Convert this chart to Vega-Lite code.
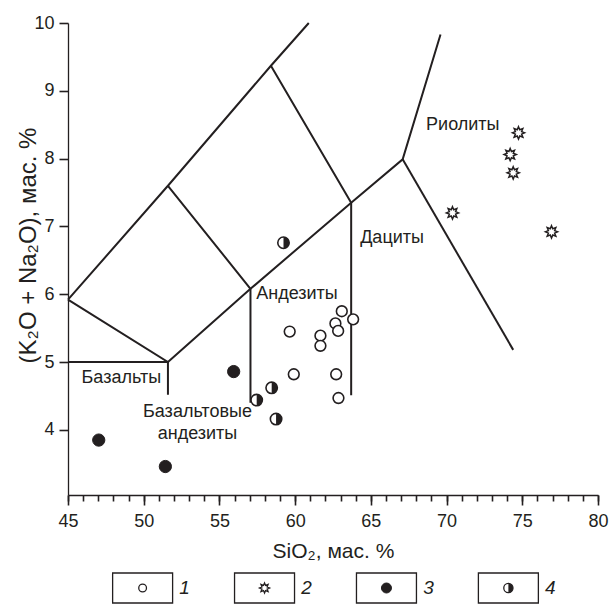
{
  "$schema": "https://vega.github.io/schema/vega-lite/v6.json",
  "background": "white",
  "padding": {"left": 16, "top": 14, "right": 5, "bottom": 0},
  "spacing": 11,
  "config": {
    "view": {"stroke": null},
    "font": "Liberation Sans",
    "text": {"font": "Liberation Sans", "fontSize": 18, "color": "#231f20"},
    "axis": {"ticks": true, "tickOpacity": 1}
  },
  "datasets": {
    "lines": [
      {"seg": "A", "o": 1, "x": 45, "y": 5.0},
      {"seg": "A", "o": 2, "x": 51.6, "y": 5.0},
      {"seg": "A", "o": 3, "x": 51.6, "y": 4.52},
      {"seg": "B", "o": 1, "x": 45, "y": 5.92},
      {"seg": "B", "o": 2, "x": 51.6, "y": 7.6},
      {"seg": "B", "o": 3, "x": 58.4, "y": 9.37},
      {"seg": "B", "o": 4, "x": 60.9, "y": 10.0},
      {"seg": "C", "o": 1, "x": 45, "y": 5.92},
      {"seg": "C", "o": 2, "x": 51.6, "y": 5.0},
      {"seg": "C", "o": 3, "x": 57.05, "y": 6.08},
      {"seg": "C", "o": 4, "x": 63.7, "y": 7.35},
      {"seg": "C", "o": 5, "x": 67.1, "y": 7.99},
      {"seg": "C", "o": 6, "x": 69.6, "y": 9.83},
      {"seg": "D", "o": 1, "x": 51.6, "y": 7.6},
      {"seg": "D", "o": 2, "x": 57.05, "y": 6.08},
      {"seg": "D", "o": 3, "x": 57.05, "y": 4.4},
      {"seg": "E", "o": 1, "x": 58.4, "y": 9.37},
      {"seg": "E", "o": 2, "x": 63.7, "y": 7.35},
      {"seg": "E", "o": 3, "x": 63.7, "y": 4.51},
      {"seg": "F", "o": 1, "x": 67.1, "y": 7.99},
      {"seg": "F", "o": 2, "x": 74.4, "y": 5.18}
    ],
    "labels": [
      {"text": "Базальты", "x": 48.52, "y": 4.76},
      {"text": "Базальтовые", "x": 53.55, "y": 4.27},
      {"text": "андезиты", "x": 53.55, "y": 3.94},
      {"text": "Андезиты", "x": 60.12, "y": 6.0},
      {"text": "Дациты", "x": 66.4, "y": 6.83},
      {"text": "Риолиты", "x": 71.07, "y": 8.5}
    ],
    "samples": [
      {"series": "1", "x": 63.08, "y": 5.75},
      {"series": "1", "x": 63.83, "y": 5.63},
      {"series": "1", "x": 62.66, "y": 5.57},
      {"series": "1", "x": 62.84, "y": 5.46},
      {"series": "1", "x": 61.67, "y": 5.39},
      {"series": "1", "x": 61.67, "y": 5.24},
      {"series": "1", "x": 59.64, "y": 5.45},
      {"series": "1", "x": 59.91, "y": 4.82},
      {"series": "1", "x": 62.71, "y": 4.82},
      {"series": "1", "x": 62.86, "y": 4.47},
      {"series": "2", "x": 74.75, "y": 8.38},
      {"series": "2", "x": 74.2, "y": 8.06},
      {"series": "2", "x": 74.4, "y": 7.79},
      {"series": "2", "x": 70.39, "y": 7.2},
      {"series": "2", "x": 76.93, "y": 6.92},
      {"series": "3", "x": 55.94, "y": 4.86},
      {"series": "3", "x": 47.03, "y": 3.85},
      {"series": "3", "x": 51.43, "y": 3.46},
      {"series": "4", "x": 58.45, "y": 4.62},
      {"series": "4", "x": 57.46, "y": 4.44},
      {"series": "4", "x": 58.74, "y": 4.16},
      {"series": "4", "x": 59.23, "y": 6.76}
    ],
    "keys": [
      {"series": "1"},
      {"series": "2"},
      {"series": "3"},
      {"series": "4"}
    ]
  },
  "vconcat": [
    {
      "width": 530,
      "height": 472,
      "resolve": {"axis": {"x": "independent"}},
      "encoding": {
        "x": {
          "field": "x",
          "type": "quantitative",
          "scale": {"domain": [45, 80], "nice": false, "zero": false},
          "axis": null
        },
        "y": {
          "field": "y",
          "type": "quantitative",
          "scale": {"domain": [3.04, 10], "nice": false, "zero": false},
          "axis": {
            "values": [4, 5, 6, 7, 8, 9, 10],
            "grid": false,
            "tickSize": 9,
            "labelPadding": 5,
            "labelFont": "Liberation Sans",
            "labelFontSize": 18,
            "labelColor": "#231f20",
            "domainColor": "#231f20",
            "domainWidth": 1.3,
            "tickColor": "#231f20",
            "tickWidth": 1.6,
            "title": "(K₂O + Na₂O), мас. %",
            "titleFont": "Liberation Sans",
            "titleFontSize": 24,
            "titleFontWeight": "normal",
            "titleColor": "#231f20",
            "titleAlign": "center",
            "titleBaseline": "middle",
            "titleAngle": -90,
            "titleX": -40,
            "titleY": 222
          }
        }
      },
      "layer": [
        {
          "data": {"name": "lines"},
          "mark": {"type": "line", "stroke": "#231f20", "strokeWidth": 2, "strokeJoin": "miter"},
          "encoding": {
            "x": {
              "field": "x",
              "type": "quantitative",
              "axis": {
                "orient": "bottom",
                "values": [45,46,47,48,49,50,51,52,53,54,55,56,57,58,59,60,61,62,63,64,65,66,67,68,69,70,71,72,73,74,75,76,77,78,79,80],
                "grid": false,
                "labels": false,
                "domain": false,
                "ticks": true,
                "tickSize": 6,
                "tickColor": "#231f20",
                "tickWidth": 1.6,
                "title": null
              }
            },
            "detail": {"field": "seg", "type": "nominal"},
            "order": {"field": "o", "type": "quantitative"}
          }
        },
        {
          "data": {"name": "labels"},
          "mark": {"type": "text", "align": "center", "baseline": "middle"},
          "encoding": {
            "x": {
              "field": "x",
              "type": "quantitative",
              "axis": {
                "orient": "bottom",
                "values": [45, 50, 55, 60, 65, 70, 75, 80],
                "grid": false,
                "ticks": true,
                "tickSize": 10,
                "labelOverlap": false,
                "labelFlush": false,
                "labelPadding": 7,
                "labelFont": "Liberation Sans",
                "labelFontSize": 18,
                "labelColor": "#231f20",
                "domainColor": "#231f20",
                "domainWidth": 1.3,
                "tickColor": "#231f20",
                "tickWidth": 1.6,
                "title": "SiO₂, мас. %",
                "titleFont": "Liberation Sans",
                "titleFontSize": 21,
                "titleFontWeight": "normal",
                "titleColor": "#231f20",
                "titlePadding": 10
              }
            },
            "text": {"field": "text", "type": "nominal"}
          }
        },
        {
          "data": {"name": "samples"},
          "transform": [{"filter": "datum.series === '1'"}],
          "mark": {"type": "point", "shape": "circle", "filled": true, "fill": "white", "stroke": "#231f20", "strokeWidth": 1.6, "size": 115, "opacity": 1}
        },
        {
          "data": {"name": "samples"},
          "transform": [{"filter": "datum.series === '2'"}],
          "mark": {"type": "point", "shape": "M0,-1L0.21,-0.51L0.707,-0.707L0.51,-0.21L1,0L0.51,0.21L0.707,0.707L0.21,0.51L0,1L-0.21,0.51L-0.707,0.707L-0.51,0.21L-1,0L-0.51,-0.21L-0.707,-0.707L-0.21,-0.51Z", "filled": true, "fill": "white", "stroke": "#231f20", "strokeWidth": 1.5, "size": 150, "opacity": 1}
        },
        {
          "data": {"name": "samples"},
          "transform": [{"filter": "datum.series === '3'"}],
          "mark": {"type": "point", "shape": "circle", "filled": true, "fill": "#231f20", "stroke": "#231f20", "strokeWidth": 1, "size": 150, "opacity": 1}
        },
        {
          "data": {"name": "samples"},
          "transform": [{"filter": "datum.series === '4'"}],
          "mark": {"type": "point", "shape": "circle", "filled": true, "fill": "white", "stroke": "#231f20", "strokeWidth": 1.6, "size": 130, "opacity": 1}
        },
        {
          "data": {"name": "samples"},
          "transform": [{"filter": "datum.series === '4'"}],
          "mark": {"type": "point", "shape": "M0,-1A1,1,0,0,1,0,1Z", "filled": true, "fill": "#231f20", "strokeWidth": 0, "size": 130, "opacity": 1}
        }
      ]
    },
    {
      "width": 515,
      "height": 30,
      "data": {"name": "keys"},
      "encoding": {
        "x": {
          "field": "series",
          "type": "nominal",
          "scale": {"type": "band", "paddingInner": 0.508, "paddingOuter": 0.366},
          "axis": null
        }
      },
      "layer": [
        {
          "mark": {"type": "rect", "fill": "white", "stroke": "#231f20", "strokeWidth": 1.3}
        },
        {
          "transform": [{"filter": "datum.series === '1'"}],
          "mark": {"type": "point", "shape": "circle", "filled": true, "fill": "white", "stroke": "#231f20", "strokeWidth": 1.3, "size": 60, "opacity": 1}
        },
        {
          "transform": [{"filter": "datum.series === '2'"}],
          "mark": {"type": "point", "shape": "M0,-1L0.21,-0.51L0.707,-0.707L0.51,-0.21L1,0L0.51,0.21L0.707,0.707L0.21,0.51L0,1L-0.21,0.51L-0.707,0.707L-0.51,0.21L-1,0L-0.51,-0.21L-0.707,-0.707L-0.21,-0.51Z", "filled": true, "fill": "white", "stroke": "#231f20", "strokeWidth": 1.3, "size": 100, "opacity": 1}
        },
        {
          "transform": [{"filter": "datum.series === '3'"}],
          "mark": {"type": "point", "shape": "circle", "filled": true, "fill": "#231f20", "stroke": "#231f20", "strokeWidth": 1, "size": 100, "opacity": 1}
        },
        {
          "transform": [{"filter": "datum.series === '4'"}],
          "mark": {"type": "point", "shape": "circle", "filled": true, "fill": "white", "stroke": "#231f20", "strokeWidth": 1.3, "size": 85, "opacity": 1}
        },
        {
          "transform": [{"filter": "datum.series === '4'"}],
          "mark": {"type": "point", "shape": "M0,-1A1,1,0,0,1,0,1Z", "filled": true, "fill": "#231f20", "strokeWidth": 0, "size": 85, "opacity": 1}
        },
        {
          "mark": {"type": "text", "align": "center", "baseline": "middle", "fontStyle": "italic", "fontSize": 19, "dx": 12},
          "encoding": {
            "x": {"field": "series", "type": "nominal", "bandPosition": 1},
            "text": {"field": "series", "type": "nominal"}
          }
        }
      ]
    }
  ]
}
